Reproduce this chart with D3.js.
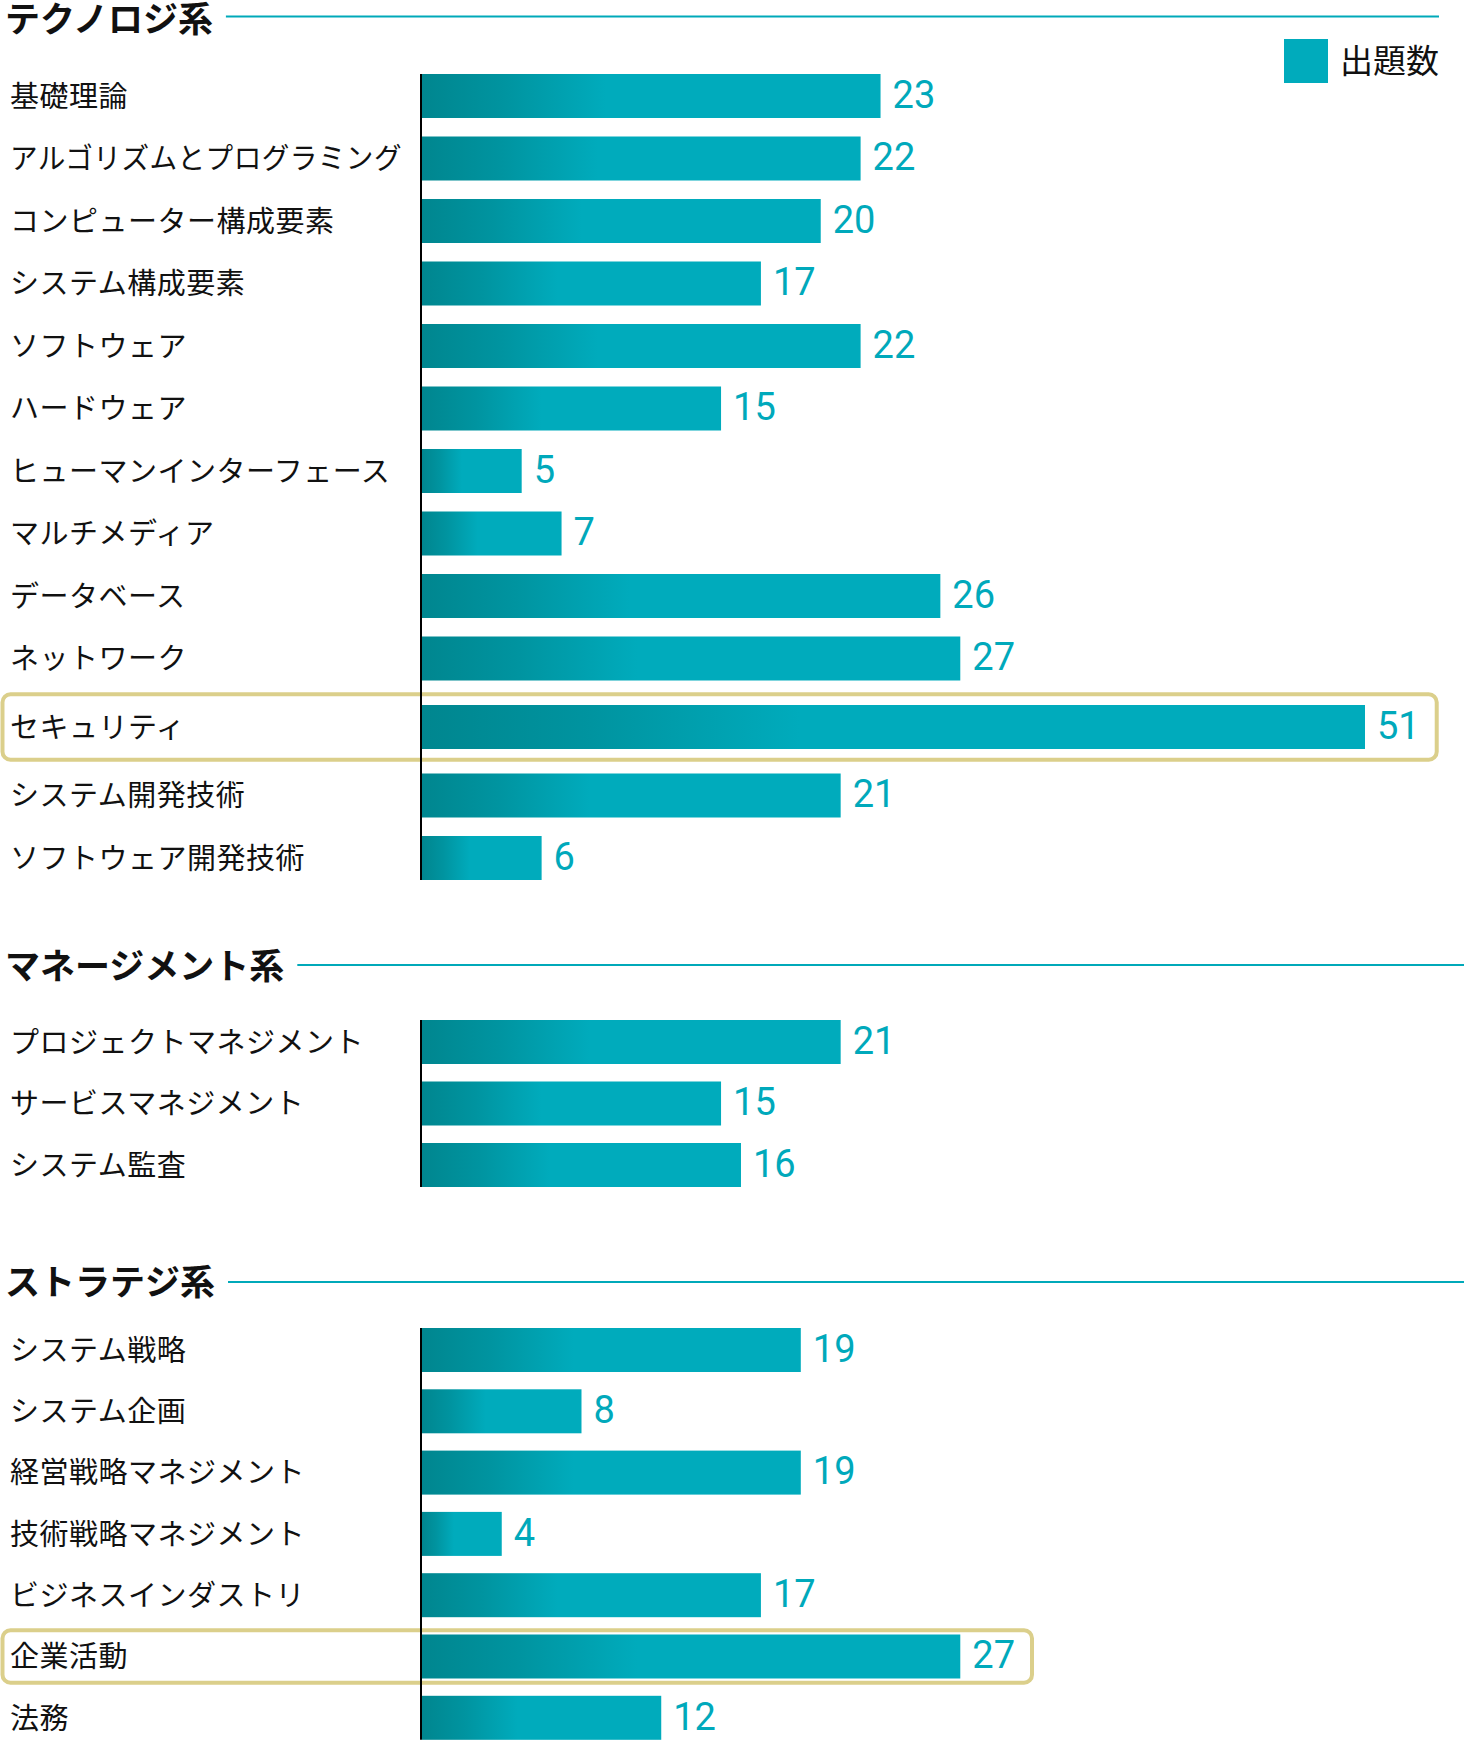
<!DOCTYPE html>
<html lang="ja">
<head>
<meta charset="utf-8">
<script src="https://cdn.jsdelivr.net/npm/d3@7"></script>
<style>
  body { margin: 0; background: #fff; }
  svg { display: block; }
  .label { font-family: "Noto Sans CJK JP", "Noto Sans", sans-serif; font-size: 29px; letter-spacing: 0.5px; fill: #111; }
  .title { font-family: "Noto Sans CJK JP", sans-serif; font-size: 35px; font-weight: 700; fill: #111; }
  .value { font-family: Roboto, "Noto Sans", sans-serif; font-size: 38px; font-weight: 400; fill: #00a9bb; }
</style>
</head>
<body>
<div id="chart"></div>
<script>
// Data
const sectionTitles = ["テクノロジ系", "マネージメント系", "ストラテジ系"];
const legendLabel = "出題数";

const techCategories = ["基礎理論", "アルゴリズムとプログラミング", "コンピューター構成要素", "システム構成要素",
  "ソフトウェア", "ハードウェア", "ヒューマンインターフェース", "マルチメディア", "データベース",
  "ネットワーク", "セキュリティ", "システム開発技術", "ソフトウェア開発技術"];
const techValues = [23, 22, 20, 17, 22, 15, 5, 7, 26, 27, 51, 21, 6];

const mgmtCategories = ["プロジェクトマネジメント", "サービスマネジメント", "システム監査"];
const mgmtValues = [21, 15, 16];

const stratCategories = ["システム戦略", "システム企画", "経営戦略マネジメント", "技術戦略マネジメント",
  "ビジネスインダストリ", "企業活動", "法務"];
const stratValues = [19, 8, 19, 4, 17, 27, 12];

const highlighted = ["セキュリティ", "企業活動"];

// Layout
const WIDTH = 1464, HEIGHT = 1741;
const BAR_H = 44;
const LABEL_MAX = 392; // labels must stay left of the axis
const TEAL = "#00abbc";
const BOX = "#dbcf8b";

const svg = d3.select("#chart").append("svg")
    .attr("width", WIDTH)
    .attr("height", HEIGHT);

// gradient for bars (dark at the left end)
const grad = svg.append("defs").append("linearGradient")
    .attr("id", "barGrad")
    .attr("x1", 0).attr("x2", 1).attr("y1", 0).attr("y2", 0);
grad.append("stop").attr("offset", "0%").attr("stop-color", "#00868f");
grad.append("stop").attr("offset", "18%").attr("stop-color", "#0094a0");
grad.append("stop").attr("offset", "40%").attr("stop-color", TEAL);
grad.append("stop").attr("offset", "100%").attr("stop-color", TEAL);

// shared x scale, 51 is clamped so its label still fits
const xScale = d3.scaleLinear()
    .domain([0, 47.3])
    .range([422, 1365])
    .clamp(true);

const sections = [
  { title: sectionTitles[0], cats: techCategories, vals: techValues, titleY: 19, lineY: 16.5, lineEnd: 1439, top: 74, step: 62.5, extra: 6 },
  { title: sectionTitles[1], cats: mgmtCategories, vals: mgmtValues, titleY: 966, lineY: 965, lineEnd: WIDTH, top: 1020, step: 61.5, extra: 0 },
  { title: sectionTitles[2], cats: stratCategories, vals: stratValues, titleY: 1282, lineY: 1282, lineEnd: WIDTH, top: 1328, step: 61.3, extra: 0 }
];

sections.forEach(function(s) {
  const g = svg.append("g");

  // section title and rule
  const title = g.append("text")
      .attr("class", "title")
      .attr("x", 5)
      .attr("y", s.titleY)
      .attr("dy", "0.37em")
      .text(s.title);
  const titleEnd = 5 + title.node().getComputedTextLength();
  g.append("line")
      .attr("x1", titleEnd + 13)
      .attr("x2", s.lineEnd)
      .attr("y1", s.lineY)
      .attr("y2", s.lineY)
      .attr("stroke", "#00a9b9")
      .attr("stroke-width", 2);

  // row positions
  const yScale = d3.scalePoint()
      .domain(s.cats)
      .range([s.top, s.top + s.step * (s.cats.length - 1)]);
  let shift = 0;
  const rows = s.cats.map(function(c, i) {
    const hl = highlighted.includes(c);
    if (hl) shift += s.extra;
    const r = { cat: c, val: s.vals[i], hl: hl, y: yScale(c) + shift };
    if (hl) shift += s.extra;
    return r;
  });

  // highlight boxes (behind everything)
  const boxG = g.append("g");

  // bars
  g.selectAll(".bar")
    .data(rows)
    .enter().append("rect")
      .attr("class", "bar")
      .attr("x", xScale(0))
      .attr("y", d => d.y)
      .attr("width", d => xScale(d.val) - xScale(0))
      .attr("height", BAR_H)
      .attr("fill", "url(#barGrad)");

  // category labels
  g.selectAll(".label")
    .data(rows)
    .enter().append("text")
      .attr("class", "label")
      .attr("x", 10)
      .attr("y", d => d.y + BAR_H / 2)
      .attr("dy", "0.37em")
      .text(d => d.cat)
      .each(function() {
        // squeeze any label that would run into the axis
        if (this.getComputedTextLength() > LABEL_MAX) {
          d3.select(this)
            .attr("textLength", LABEL_MAX)
            .attr("lengthAdjust", "spacingAndGlyphs");
        }
      });

  // value labels
  const values = g.selectAll(".value")
    .data(rows)
    .enter().append("text")
      .attr("class", "value")
      .attr("x", d => xScale(d.val) + 12)
      .attr("y", d => d.y + BAR_H / 2)
      .attr("dy", "0.31em")
      .text(d => d.val);

  // axis line
  g.append("line")
      .attr("x1", 421).attr("x2", 421)
      .attr("y1", rows[0].y)
      .attr("y2", rows[rows.length - 1].y + BAR_H)
      .attr("stroke", "#000")
      .attr("stroke-width", 2);

  values.each(function(d) {
    if (!d.hl) return;
    const bb = this.getBBox();
    const half = (s.step + 2 * s.extra) / 2 - 4.5;
    boxG.append("rect")
        .attr("x", 2.5)
        .attr("y", d.y + BAR_H / 2 - half)
        .attr("width", bb.x + bb.width + 17 - 2.5)
        .attr("height", half * 2)
        .attr("rx", 8)
        .attr("fill", "none")
        .attr("stroke", BOX)
        .attr("stroke-width", 4);
  });
});

// legend
const legend = svg.append("g").attr("transform", "translate(1284,39)");
legend.append("rect")
    .attr("width", 44)
    .attr("height", 44)
    .attr("fill", TEAL);
legend.append("text")
    .attr("class", "label")
    .style("font-size", "33px")
    .style("letter-spacing", "0")
    .attr("x", 56)
    .attr("y", 22)
    .attr("dy", "0.37em")
    .text(legendLabel);
</script>
</body>
</html>
